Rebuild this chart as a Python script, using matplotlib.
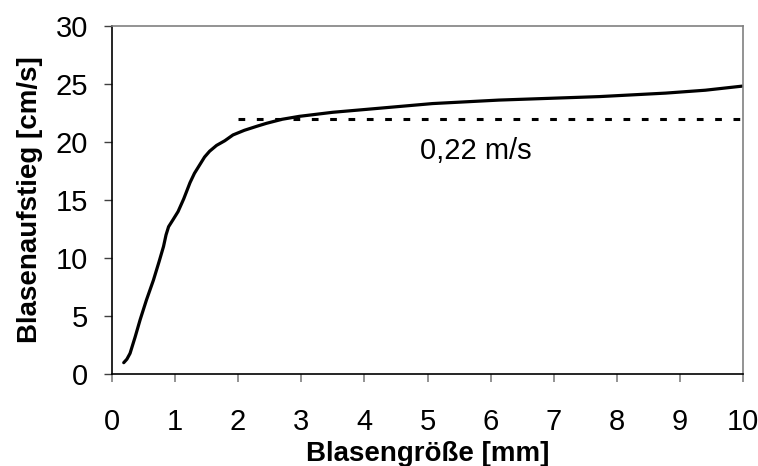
import matplotlib
matplotlib.use("Agg")
import matplotlib.pyplot as plt

plt.rcParams['font.family'] = ['Liberation Sans', 'DejaVu Sans']

# bubble size [mm] and rise velocity [cm/s]
groesse = [0.19, 0.24, 0.29, 0.37, 0.45, 0.55, 0.66, 0.75, 0.82, 0.86, 0.90, 0.97,
           1.05, 1.14, 1.24, 1.31, 1.39, 1.47, 1.55, 1.66, 1.79, 1.92, 2.1, 2.3,
           2.45, 2.7, 2.97, 3.5, 4.03, 5.08, 6.13, 7.72, 8.77, 9.4, 9.98]
aufstieg = [1.0, 1.3, 1.8, 3.2, 4.7, 6.4, 8.1, 9.7, 11.0, 12.0, 12.7, 13.3,
            14.0, 15.1, 16.5, 17.3, 18.0, 18.7, 19.2, 19.7, 20.1, 20.6, 21.0, 21.35,
            21.6, 21.95, 22.2, 22.55, 22.8, 23.3, 23.6, 23.9, 24.2, 24.45, 24.8]

grenz_x = [2, 10]
grenz_y = [22, 22]
grenz_text = "0,22 m/s"

xticks = list(range(0, 11))
yticks = list(range(0, 31, 5))

gray = '#808080'

fig = plt.figure(figsize=(7.58, 4.66), dpi=100)
ax = fig.add_axes([0.1474, 0.1968, 0.8332, 0.748])

ax.plot(groesse, aufstieg, color='black', lw=2.3, solid_capstyle='round',
        solid_joinstyle='round')
ax.plot(grenz_x, grenz_y, color='black', lw=2.2, linestyle=(0, (2.2, 3.8)),
        dash_capstyle='butt')
ax.text(5.77, 19.2, grenz_text, ha='center', va='center', fontsize=21)

ax.set_xlim(0, 10)
ax.set_ylim(0, 30)
ax.set_xticks(xticks)
ax.set_yticks(yticks)

ax.spines['left'].set_color('black')
ax.spines['bottom'].set_color('black')
ax.spines['top'].set_color(gray)
ax.spines['right'].set_color(gray)
for s in ax.spines.values():
    s.set_linewidth(1.2)

ax.tick_params(axis='x', direction='out', length=6, width=1.2, color=gray,
               labelsize=21, pad=18)
ax.tick_params(axis='y', direction='out', length=6, width=1.0, color='#404040',
               labelsize=21, pad=11)

ax.set_xlabel("Blasengröße [mm]", fontsize=20, fontweight='bold', labelpad=4)
ax.set_ylabel("Blasenaufstieg [cm/s]", fontsize=20, fontweight='bold', labelpad=9)

fig.savefig("out.png", dpi=100)
